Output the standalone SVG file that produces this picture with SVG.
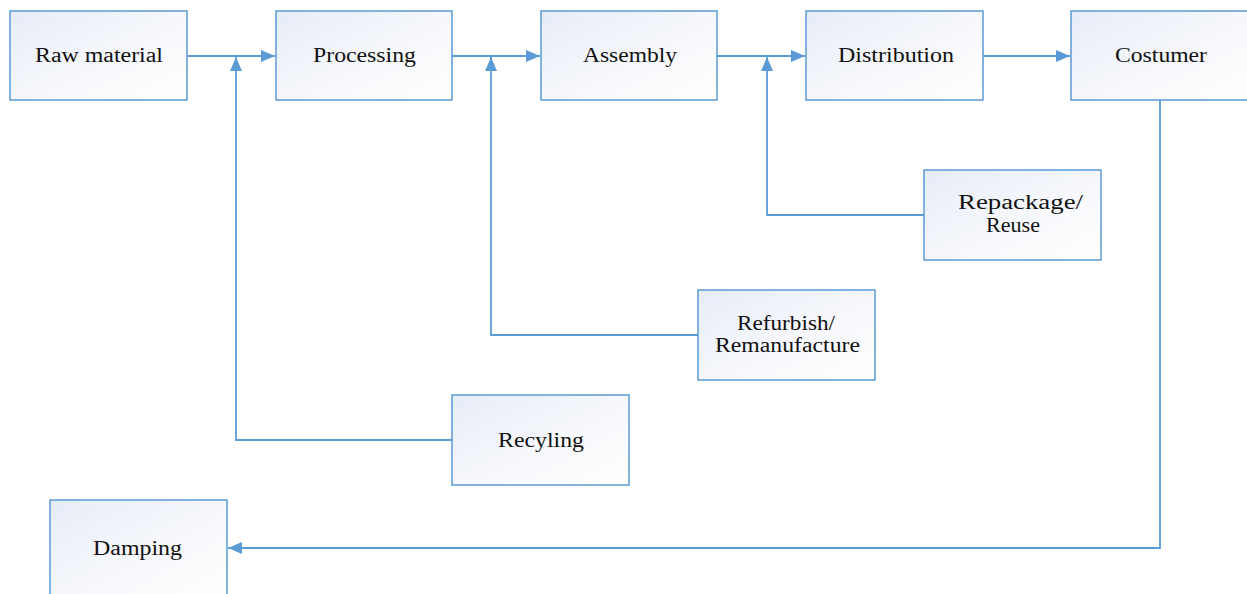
<svg xmlns="http://www.w3.org/2000/svg" width="1247" height="594" viewBox="0 0 1247 594">
<style>
.box{stroke:#5b9bd5;stroke-width:1.5;fill:url(#g)}
.t{font-family:"Liberation Serif",serif;font-size:20px;fill:#111}
.c{fill:none;stroke:#5b9bd5;stroke-width:1.8}
</style>
<defs>
<linearGradient id="g" x1="0" y1="0" x2="1" y2="1">
<stop offset="0" stop-color="#e6ecf7"/>
<stop offset="0.6" stop-color="#f8f9fc"/>
<stop offset="1" stop-color="#ffffff"/>
</linearGradient>
<marker id="a" viewBox="0 0 10 10" refX="10" refY="5" markerWidth="14" markerHeight="12" markerUnits="userSpaceOnUse" orient="auto" preserveAspectRatio="none">
<path d="M0,0 L10,5 L0,10 z" fill="#5b9bd5"/>
</marker>
</defs>
<rect width="1247" height="594" fill="#fff"/>
<g id="connectors">
<path class="c" d="M187,56 H275" marker-end="url(#a)"/>
<path class="c" d="M452,56 H540" marker-end="url(#a)"/>
<path class="c" d="M717,56 H805" marker-end="url(#a)"/>
<path class="c" d="M983,56 H1070" marker-end="url(#a)"/>
<path class="c" d="M452,440 H236 V57" marker-end="url(#a)"/>
<path class="c" d="M698,335 H491 V57" marker-end="url(#a)"/>
<path class="c" d="M924,215 H767 V57" marker-end="url(#a)"/>
<path class="c" d="M1160,100 V548 H228" marker-end="url(#a)"/>
</g>
<g id="raw"><rect class="box" x="10" y="11" width="177" height="89"/><text class="t" x="35" y="62" textLength="128" lengthAdjust="spacingAndGlyphs">Raw material</text></g>
<g id="processing"><rect class="box" x="276" y="11" width="176" height="89"/><text class="t" x="313" y="62" textLength="103" lengthAdjust="spacingAndGlyphs">Processing</text></g>
<g id="assembly"><rect class="box" x="541" y="11" width="176" height="89"/><text class="t" x="583" y="62" textLength="94" lengthAdjust="spacingAndGlyphs">Assembly</text></g>
<g id="distribution"><rect class="box" x="806" y="11" width="177" height="89"/><text class="t" x="838" y="62" textLength="116" lengthAdjust="spacingAndGlyphs">Distribution</text></g>
<g id="costumer"><rect class="box" x="1071" y="11" width="177" height="89"/><text class="t" x="1115" y="62" textLength="92" lengthAdjust="spacingAndGlyphs">Costumer</text></g>
<g id="repackage"><rect class="box" x="924" y="170" width="177" height="90"/><text class="t" x="958" y="209" textLength="125" lengthAdjust="spacingAndGlyphs">Repackage/</text><text class="t" x="986" y="232" textLength="54" lengthAdjust="spacingAndGlyphs">Reuse</text></g>
<g id="refurbish"><rect class="box" x="698" y="290" width="177" height="90"/><text class="t" x="737" y="330" textLength="98" lengthAdjust="spacingAndGlyphs">Refurbish/</text><text class="t" x="715" y="352" textLength="145" lengthAdjust="spacingAndGlyphs">Remanufacture</text></g>
<g id="recyling"><rect class="box" x="452" y="395" width="177" height="90"/><text class="t" x="498" y="447" textLength="86" lengthAdjust="spacingAndGlyphs">Recyling</text></g>
<g id="damping"><rect class="box" x="50" y="500" width="177" height="100"/><text class="t" x="93" y="555" textLength="89" lengthAdjust="spacingAndGlyphs">Damping</text></g>
</svg>
